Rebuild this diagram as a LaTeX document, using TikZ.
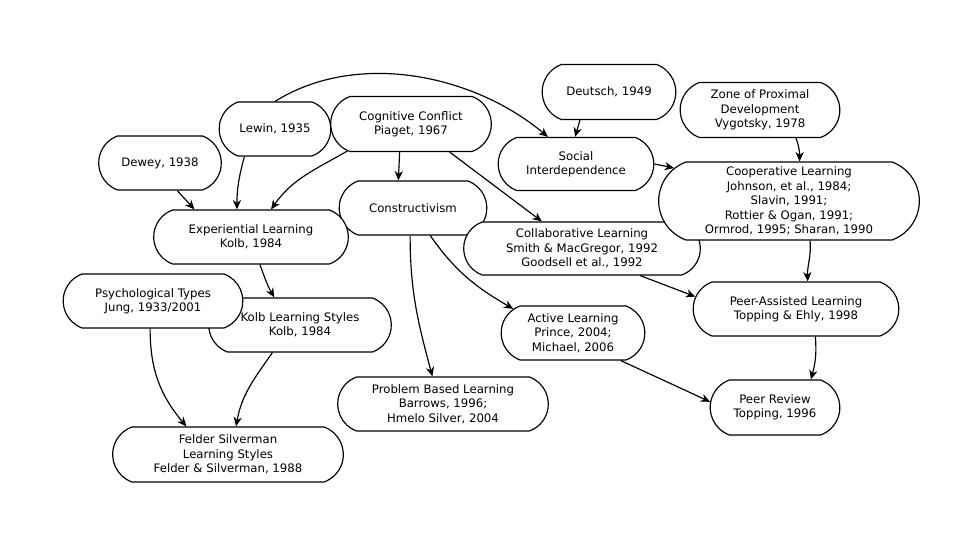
\documentclass[tikz,border=0pt]{standalone}
\usepackage{fontspec}
\setmainfont{DejaVu Sans}
\usetikzlibrary{shapes.misc,arrows.meta}
\tikzset{
  concept/.style={rounded rectangle, rounded rectangle arc length=140, draw=black, line width=1pt, fill=white, align=center, inner sep=1pt, minimum height=1.62cm, font=\fontsize{10}{12.3}\selectfont},
  link/.style={line width=1pt, -{Stealth[length=8pt,width=7pt,inset=2.5pt]}}
}

\begin{document}
\begin{tikzpicture}[x=0.03cm,y=0.03cm]
  \useasboundingbox (0,0) rectangle (960,540);
  % concepts (back to front where they overlap)
  \node[concept, minimum width=4.5cm] (constr) at (413,332) {Constructivism};
  \node[concept, minimum width=3.42cm] (lewin) at (275,411) {Lewin, 1935};
  \node[concept, minimum width=4.89cm, minimum height=1.65cm] (piaget) at (411,416) {Cognitive Conflict\\Piaget, 1967};
  \node[concept, minimum width=3.75cm] (dewey) at (160,377) {Dewey, 1938};
  \node[concept, minimum width=5.91cm] (exper) at (251,303) {Experiential Learning\\Kolb, 1984};
  \node[concept, minimum width=4.08cm, minimum height=1.65cm] (deutsch) at (609,448) {Deutsch, 1949};
  \node[concept, minimum width=4.86cm, minimum height=1.65cm] (vygotsky) at (760,430) {Zone of Proximal\\Development\\Vygotsky, 1978};
  \node[concept, minimum width=4.74cm, minimum height=1.59cm] (social) at (576,376) {Social\\Interdependence};
  \node[concept, minimum width=7.17cm, minimum height=1.59cm] (collab) at (582,291.5) {Collaborative Learning\\Smith \& MacGregor, 1992\\Goodsell et al., 1992};
  \node[concept, minimum width=7.89cm, minimum height=2.34cm] (coop) at (789,339) {Cooperative Learning\\Johnson, et al., 1984;\\Slavin, 1991;\\Rottier \& Ogan, 1991;\\Ormrod, 1995; Sharan, 1990};
  \node[concept, minimum width=5.55cm] (kolbls) at (300,215) {Kolb Learning Styles\\Kolb, 1984};
  \node[concept, minimum width=5.46cm] (psych) at (153,239) {Psychological Types\\Jung, 1933/2001};
  \node[concept, minimum width=6.99cm, minimum height=1.65cm] (felder) at (228,85.5) {Felder Silverman\\Learning Styles\\Felder \& Silverman, 1988};
  \node[concept, minimum width=6.39cm] (pbl) at (443,136) {Problem Based Learning\\Barrows, 1996;\\Hmelo Silver, 2004};
  \node[concept, minimum width=4.38cm] (active) at (573,207) {Active Learning\\Prince, 2004;\\Michael, 2006};
  \node[concept, minimum width=6.24cm] (peerassist) at (796,231) {Peer-Assisted Learning\\Topping \& Ehly, 1998};
  \node[concept, minimum width=3.96cm, minimum height=1.65cm] (peerrev) at (775,132.5) {Peer Review\\Topping, 1996};
  % links
  \draw[link] (lewin.north) to[out=32,in=140,looseness=0.9] (social.136);
  \draw[link] (lewin.222) to[out=255,in=90] (exper.117);
  \draw[link] (dewey.-58) -- (exper.154);
  \draw[link] (piaget.203) to[out=210,in=55] (exper.54);
  \draw[link] (piaget.248) -- (constr.118);
  \draw[link] (piaget.-36) -- (collab.146);
  \draw[link] (deutsch.224) -- (social.92);
  \draw[link] (social.east) -- (coop.164);
  \draw[link] (vygotsky.-38) to[out=-70,in=90] (coop.75);
  \draw[link] (coop.-62) to[out=-85,in=92] (peerassist.67);
  \draw[link] (collab.-25) -- (peerassist.173);
  \draw[link] (constr.-58) to[out=-55,in=150] (active.158);
  \draw[link] (constr.-96) to[out=-90,in=105] (pbl.111);
  \draw[link] (exper.-72) to[out=-70,in=120] (kolbls.133);
  \draw[link] (psych.-96) to[out=-90,in=130] (felder.146);
  \draw[link] (kolbls.225) to[out=235,in=80] (felder.74);
  \draw[link] (peerassist.-55) to[out=-85,in=75] (peerrev.38);
  \draw[link] (active.-30) -- (peerrev.175);
\end{tikzpicture}
\end{document}
